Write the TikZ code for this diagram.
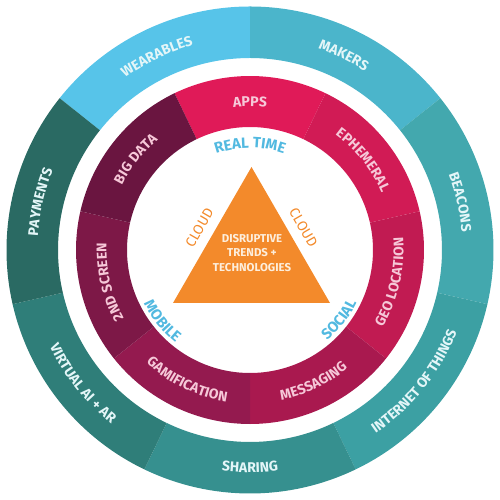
\documentclass[tikz,border=0pt]{standalone}
\usepackage{fontspec}
\setmainfont{Fira Sans}
\usetikzlibrary{decorations.text}

% ring colours
\definecolor{wearables}{HTML}{57C4E9}
\definecolor{makers}{HTML}{4BB5CB}
\definecolor{beacons}{HTML}{43A8AE}
\definecolor{things}{HTML}{3CA0A3}
\definecolor{sharing}{HTML}{36908F}
\definecolor{virtual}{HTML}{2F7E79}
\definecolor{payments}{HTML}{2A6A63}
\definecolor{apps}{HTML}{E01A58}
\definecolor{ephemeral}{HTML}{D11B55}
\definecolor{geo}{HTML}{C11B52}
\definecolor{messaging}{HTML}{A9194F}
\definecolor{gamification}{HTML}{941A4F}
\definecolor{screen}{HTML}{7D1847}
\definecolor{bigdata}{HTML}{6A1540}
% text colours
\definecolor{outertext}{HTML}{E4F6F8}
\definecolor{innertext}{HTML}{F6C8D8}
\definecolor{trendblue}{HTML}{52B9E0}
\definecolor{trendorange}{HTML}{F38A2B}
\definecolor{coretext}{HTML}{FDEEDC}

\begin{document}
\begin{tikzpicture}[
		outer label/.style={decorate, decoration={text along path, text align=center,
			text={|\bfseries\fontsize{8}{9}\selectfont\color{outertext}|#1}}},
		inner label/.style={decorate, decoration={text along path, text align=center,
			text={|\bfseries\fontsize{8}{9}\selectfont\color{innertext}|#1}}},
		trend label/.style={decorate, decoration={text along path, text align=center,
			text={|\bfseries\fontsize{8.5}{10}\selectfont\color{trendblue}|#1}}},
		core/.style={align=center, font=\bfseries\fontsize{6.5}{8.3}\selectfont, text=coretext},
		cloud/.style={font=\fontsize{8}{9}\selectfont, text=trendorange, sloped, above=2pt}
		]
		\useasboundingbox (-5,-5) rectangle (5,5);
		
		% Outer ring: start angle / colour / label / letters upright outward
		\foreach \segstart/\col/\lab/\up in {
			90/wearables/WEARABLES/1, 38.57/makers/MAKERS/1, -12.86/beacons/BEACONS/1,
			295.71/things/INTERNET OF THINGS/0, 244.29/sharing/SHARING/0,
			192.86/virtual/VIRTUAL AI + AR/0, 141.43/payments/PAYMENTS/1}{
			\pgfmathsetmacro\segend{\segstart+51.43}
			\fill[\col] (\segstart:4.87) arc[start angle=\segstart, end angle=\segend, radius=4.87]
				-- (\segend:3.84) arc[start angle=\segend, end angle=\segstart, radius=3.84] -- cycle;
			\ifnum\up=1
				\path[outer label/.expanded=\lab] (\segend:4.25) arc[start angle=\segend, end angle=\segstart, radius=4.25];
			\else
				\path[outer label/.expanded=\lab] (\segstart:4.45) arc[start angle=\segstart, end angle=\segend, radius=4.45];
			\fi
		}
		
		% Inner ring
		\foreach \segstart/\col/\lab/\up in {
			64.29/apps/APPS/1, 12.86/ephemeral/EPHEMERAL/1, 321.43/geo/GEO LOCATION/0,
			270/messaging/MESSAGING/0, 218.57/gamification/GAMIFICATION/0,
			167.14/screen/2ND SCREEN/1, 115.71/bigdata/BIG DATA/1}{
			\pgfmathsetmacro\segend{\segstart+51.43}
			\fill[\col] (\segstart:3.48) arc[start angle=\segstart, end angle=\segend, radius=3.48]
				-- (\segend:2.46) arc[start angle=\segend, end angle=\segstart, radius=2.46] -- cycle;
			\ifnum\up=1
				\path[inner label/.expanded=\lab] (\segend:2.87) arc[start angle=\segend, end angle=\segstart, radius=2.87];
			\else
				\path[inner label/.expanded=\lab] (\segstart:3.07) arc[start angle=\segstart, end angle=\segend, radius=3.07];
			\fi
		}
		
		% Trend labels round the triangle
		\path[trend label=REAL TIME] (115:2.04) arc[start angle=115, end angle=65, radius=2.04];
		\path[trend label=MOBILE] (199:2.38) arc[start angle=199, end angle=239, radius=2.38];
		\path[trend label=SOCIAL] (302:2.38) arc[start angle=302, end angle=342, radius=2.38];
		
		% Triangle
		\coordinate (top) at (0.03,1.66);
		\coordinate (left) at (-1.54,-1.06);
		\coordinate (right) at (1.60,-1.06);
		\fill[trendorange] (left) -- (top) -- (right) -- cycle;
		\node[core] (core) at (0.04,-0.06) {DISRUPTIVE\\TRENDS +\\TECHNOLOGIES};
		\path (left) -- node[cloud] (cloudl) {CLOUD} (top);
		\path (top) -- node[cloud] (cloudr) {CLOUD} (right);
		
	\end{tikzpicture}
\end{document}
